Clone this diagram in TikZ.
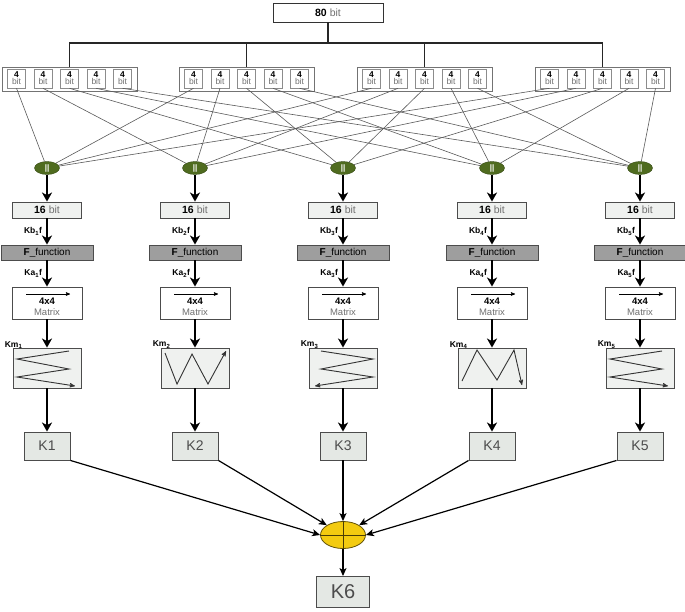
\documentclass[tikz,border=0pt]{standalone}
\usepackage{fontspec}
\setmainfont{Liberation Sans}
\usetikzlibrary{arrows,arrows.meta,shapes.geometric,positioning}
\definecolor{hubgreen}{HTML}{4F6B1F}
\definecolor{xorgold}{HTML}{F3CB10}
\definecolor{palegrey}{HTML}{E4E8E4}
\definecolor{fungrey}{HTML}{9E9E9E}
\definecolor{txtgrey}{HTML}{707070}

\begin{document}
\begin{tikzpicture}[x=1pt,y=-1pt,
    every node/.style={inner sep=0pt,font=\fontsize{10.5}{11}\selectfont},
    >=stealth',
    bus/.style={line width=1.4pt,draw=black!85},
    wire/.style={line width=0.6pt,draw=black!65},
    flow/.style={-{Stealth[length=9pt,width=10pt,inset=2.5pt]},line width=2pt},
    kin/.style={-{Stealth[length=8pt,width=7pt,inset=2pt]},line width=1.2pt},
    lbl/.style={font=\fontsize{8.5}{9}\selectfont\bfseries},
    grp/.style={draw=black!55,line width=0.8pt,fill=white,minimum width=135pt,minimum height=24pt},
    nib/.style={draw=black!45,line width=0.6pt,fill=white,minimum width=18pt,minimum height=19pt,
        align=center,font=\fontsize{8.5}{7}\selectfont},
    hub/.style={ellipse,fill=hubgreen,draw=hubgreen!70!black,minimum width=25pt,minimum height=13pt,
        text=white,font=\fontsize{8}{8}\selectfont\bfseries},
    pale/.style={draw=black!70,line width=0.9pt,fill=palegrey!60},
    ffun/.style={draw=black!70,line width=0.9pt,fill=fungrey,minimum width=92pt,minimum height=15pt,
        font=\fontsize{10}{10}\selectfont},
    mtx/.style={draw=black!70,line width=0.9pt,fill=white,minimum width=70pt,minimum height=32pt},
    zz/.style={line width=0.9pt,draw=black!80},
    kbox/.style={draw=black!70,line width=0.9pt,fill=palegrey,minimum width=46pt,minimum height=28pt,
        text=black!70,font=\fontsize{14}{14}\selectfont},
    xor/.style={ellipse,fill=xorgold,draw=black!60!xorgold,line width=0.8pt,minimum width=45pt,minimum height=27pt}
]
\useasboundingbox (0,0) rectangle (685,611);

\node[draw=black!80,line width=0.9pt,fill=white,minimum width=110pt,minimum height=19pt] (top) at (328,12.5)
    {\textbf{80} {\color{txtgrey}bit}};

\foreach \g/\c in {1/69.5,2/246.5,3/424.5,4/602.5}{
    \node[grp] (g\g) at (\c,79) {};
    \foreach \j in {1,...,5}
        \node[nib] (b\g-\j) at (\c+26.5*\j-79.5,78.5) {\textbf{4}\\{\color{txtgrey}bit}};
}

\coordinate (split) at (328,43);
\draw[bus] (top) -- (split);
\draw[bus] (g1.north) |- (split) -| (g4.north);
\draw[bus] (g2.north) -- (g2.north |- split);
\draw[bus] (g3.north) -- (g3.north |- split);

\foreach \i/\x in {1/47,2/195,3/343,4/492,5/640}{
    \node[hub] (h\i) at (\x,168) {||};
    \node[pale,minimum width=69pt,minimum height=16pt] (s\i) at (\x,210) {\textbf{16} {\color{txtgrey}bit}};
    \node[ffun] (f\i) at (\x,252.5) {\textbf{F}\_function};
    \node[mtx] (m\i) at (\x,303) {};
    \node[align=center,font=\fontsize{9.5}{11}\selectfont] (mt\i) at (\x,307) {\textbf{4x4}\\{\color{txtgrey}Matrix}};
    \node[pale,minimum width=68pt,minimum height=40pt] (z\i) at (\x,368) {};
    \node[lbl,anchor=south east] (km\i) at ([xshift=10pt,yshift=-1pt]z\i.north west) {Km\textsubscript{\i}};
    \node[kbox] (k\i) at (\x,446) {K\i};
    \draw[->,line width=0.6pt] ([shift={(-21,-9)}]m\i.center) -- ([shift={(23,-9)}]m\i.center);
    \draw[flow] (h\i) -- (s\i);
    \draw[flow] (s\i) -- node[left=4pt,lbl]{Kb\textsubscript{\i}f} (f\i);
    \draw[flow] (f\i) -- node[left=4pt,lbl]{Ka\textsubscript{\i}f} (m\i);
    \draw[flow] (m\i) -- (z\i);
    \draw[flow] (z\i) -- (k\i);
}

\draw[zz,->,shift={(z1.center)}] (22,-17) -- (-30,-9) -- (22,1) -- (-30,9) -- (28,18);
\draw[zz,->,shift={(z2.center)}] (-30,-15) -- (-18,16) -- (-3,-14) -- (13,16) -- (31,-17);
\draw[zz,->,shift={(z3.center)}] (-22,-17) -- (30,-9) -- (-22,1) -- (30,9) -- (-28,18);
\draw[zz,->,shift={(z4.center)}] (-30,13) -- (-15,-18) -- (5,12) -- (22,-18) -- (30,17);
\draw[zz,->,shift={(z5.center)}] (22,-17) -- (-30,-9) -- (22,1) -- (-30,9) -- (28,18);

\foreach \g in {1,...,4}
    \foreach \j in {1,...,5}
        \draw[wire] (b\g-\j.south) -- (h\j);

\node[xor] (x) at (343,535) {};
\draw[line width=0.8pt,draw=black!70!xorgold] (x.west) -- (x.east) (x.north) -- (x.south);
\node[kbox,minimum width=53pt,minimum height=31pt,font=\fontsize{20}{20}\selectfont] (k6) at (343,592) {K6};

\draw[kin] (k1.south east) -- (x.west);
\draw[kin] (k2.south east) -- (x.north west);
\draw[kin] (k3) -- (x.north);
\draw[kin] (k4.south west) -- (x.north east);
\draw[kin] (k5.south west) -- (x.east);
\draw[kin] (x.south) -- (k6);
\end{tikzpicture}
\end{document}
